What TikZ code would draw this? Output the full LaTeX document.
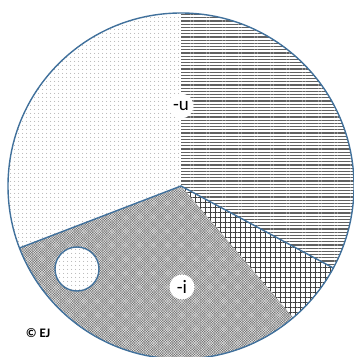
\documentclass[tikz,border=0pt]{standalone}
\usepackage{fontspec}
\setmainfont{Carlito}
\usetikzlibrary{patterns.meta,calc}
\definecolor{edgeblue}{RGB}{65,113,156}
\tikzset{
  dotfill/.style={fill=white, postaction={pattern={Dots[radius=0.55pt, distance=4pt]}, pattern color=gray!90}},
  linefill/.style={fill=white, postaction={pattern={Lines[angle=0, distance=3.2pt, line width=1.2pt]}, pattern color=black!62}},
  gridfill/.style={fill=white, postaction={pattern={Hatch[angle=0, distance=5pt, line width=0.7pt]}, pattern color=black!75}},
  darkfill/.style={fill=black!58, postaction={pattern={Hatch[angle=45, distance=1.8pt, line width=0.45pt]}, pattern color=white!75!gray}},
  edge/.style={draw=edgeblue, line width=1.4pt},
  lbl/.style={circle, fill=white, inner sep=0pt, minimum size=25pt, font=\fontsize{19}{19}\selectfont},
}
\begin{document}
\begin{tikzpicture}[x=1pt,y=1pt]
\useasboundingbox (0,0) rectangle (354,357);
\coordinate (O) at (181,171);
\def\R{173}
\fill[dotfill] (O) -- ++(90:\R) arc[start angle=90, end angle=201, radius=\R] -- cycle;
\fill[linefill] (O) -- ++(-28.3:\R) arc[start angle=-28.3, end angle=90, radius=\R] -- cycle;
\fill[gridfill] (O) -- ++(-49.6:\R) arc[start angle=-49.6, end angle=-28.3, radius=\R] -- cycle;
\fill[darkfill] (O) -- ++(201:\R) arc[start angle=201, end angle=310.4, radius=\R] -- cycle;
\coordinate (A) at ($(O)+(201:\R)$);
\coordinate (B) at ($(O)+(-28.3:\R)$);
\draw[edge] (A) -- (O) -- (B);
\draw[edge] (O) circle[radius=\R];
\node[circle, dotfill, edge, minimum size=44pt, inner sep=0pt] (hole) at (77,88) {};
\node[lbl] (u) at (181,251) {-u};
\node[lbl] (i) at (182,70) {-i};
\node[font=\fontsize{13}{13}\selectfont\bfseries] (c) at (38,24) {© EJ};
\end{tikzpicture}
\end{document}
